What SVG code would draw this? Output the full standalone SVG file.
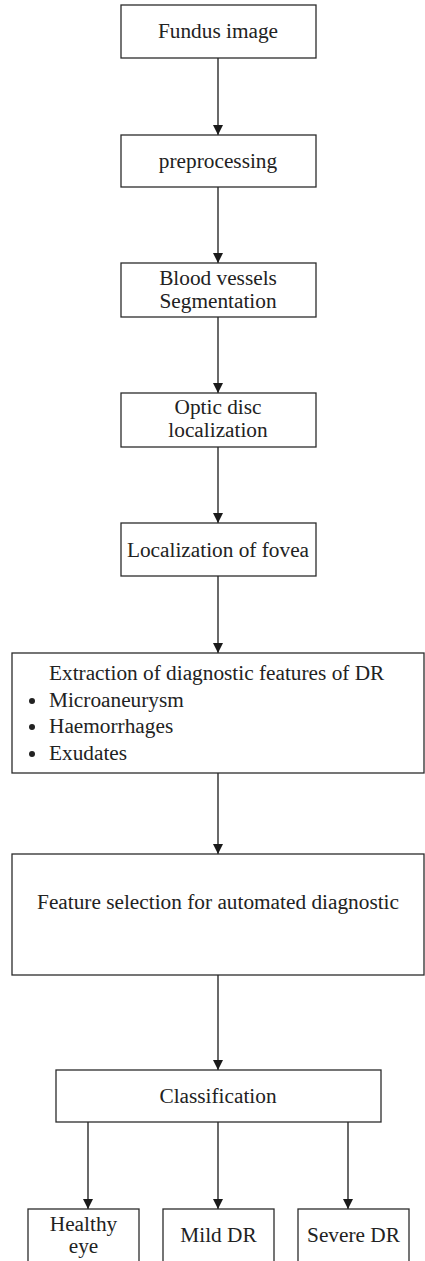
<svg xmlns="http://www.w3.org/2000/svg" width="425" height="1261" viewBox="0 0 425 1261">
  <style>
    .box { fill: #fff; stroke: #2b2b2b; stroke-width: 1.3; }
    text { font-family: 'Liberation Serif', 'DejaVu Serif', 'Times New Roman', serif; font-size: 21.3px; fill: #222; }
    .mid { text-anchor: middle; }
    .edge { stroke: #1a1a1a; stroke-width: 1.3; fill: none; marker-end: url(#arrow); }
    .dot { fill: #222; }
  </style>
  <defs>
    <marker id="arrow" markerUnits="userSpaceOnUse" markerWidth="10" markerHeight="11" refX="10" refY="5" orient="auto">
      <path d="M0,0 L10,5 L0,10 Z" fill="#1a1a1a"/>
    </marker>
  </defs>
  <rect width="425" height="1261" fill="#fff"/>

  <!-- vertical flow arrows -->
  <g id="connectors">
    <line class="edge" x1="218" y1="58" x2="218" y2="135"/>
    <line class="edge" x1="218" y1="187" x2="218" y2="263"/>
    <line class="edge" x1="218" y1="317" x2="218" y2="393"/>
    <line class="edge" x1="218" y1="447" x2="218" y2="523"/>
    <line class="edge" x1="218" y1="576" x2="218" y2="653"/>
    <line class="edge" x1="218" y1="773" x2="218" y2="854"/>
    <line class="edge" x1="218" y1="975" x2="218" y2="1070"/>
    <line class="edge" x1="88" y1="1122" x2="88" y2="1209"/>
    <line class="edge" x1="218" y1="1122" x2="218" y2="1209"/>
    <line class="edge" x1="348" y1="1122" x2="348" y2="1209"/>
  </g>

  <g id="fundus">
    <rect class="box" x="121" y="5" width="195" height="53"/>
    <text class="mid" x="218" y="38">Fundus image</text>
  </g>
  <g id="preprocessing">
    <rect class="box" x="121" y="135" width="195" height="52"/>
    <text class="mid" x="218" y="168">preprocessing</text>
  </g>
  <g id="vessels">
    <rect class="box" x="121" y="263" width="195" height="54"/>
    <text class="mid" x="218" y="285">Blood vessels</text>
    <text class="mid" x="218" y="308">Segmentation</text>
  </g>
  <g id="optic-disc">
    <rect class="box" x="121" y="393" width="195" height="54"/>
    <text class="mid" x="218" y="414">Optic disc</text>
    <text class="mid" x="218" y="437">localization</text>
  </g>
  <g id="fovea">
    <rect class="box" x="121" y="523" width="195" height="53"/>
    <text class="mid" x="218" y="557">Localization of fovea</text>
  </g>
  <g id="extraction">
    <rect class="box" x="12" y="653" width="412" height="120"/>
    <text x="49" y="680">Extraction of diagnostic features of DR</text>
    <circle class="dot" cx="32" cy="701" r="3"/>
    <text x="49" y="707">Microaneurysm</text>
    <circle class="dot" cx="32" cy="727" r="3"/>
    <text x="49" y="733">Haemorrhages</text>
    <circle class="dot" cx="32" cy="754" r="3"/>
    <text x="49" y="760">Exudates</text>
  </g>
  <g id="feature-selection">
    <rect class="box" x="12" y="854" width="412" height="121"/>
    <text class="mid" x="218" y="909">Feature selection for automated diagnostic</text>
  </g>
  <g id="classification">
    <rect class="box" x="56" y="1070" width="325" height="52"/>
    <text class="mid" x="218" y="1103">Classification</text>
  </g>
  <g id="healthy">
    <rect class="box" x="28" y="1209" width="111" height="60"/>
    <text class="mid" x="83.5" y="1231" font-size="20">Healthy</text>
    <text class="mid" x="83.5" y="1253" font-size="20">eye</text>
  </g>
  <g id="mild">
    <rect class="box" x="163" y="1209" width="111" height="60"/>
    <text class="mid" x="218.5" y="1242">Mild DR</text>
  </g>
  <g id="severe">
    <rect class="box" x="298" y="1209" width="111" height="60"/>
    <text class="mid" x="353.5" y="1242">Severe DR</text>
  </g>
</svg>
